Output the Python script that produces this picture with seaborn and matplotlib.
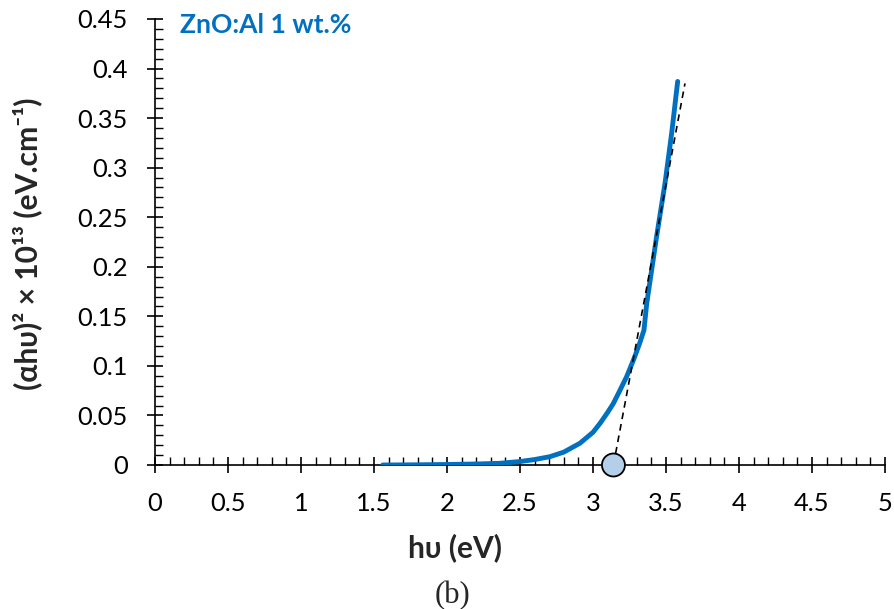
import matplotlib
matplotlib.use("Agg")
import matplotlib.pyplot as plt
import seaborn as sns
import pandas as pd
from matplotlib.ticker import MultipleLocator, FuncFormatter
from matplotlib.patches import Ellipse

# Data
energy = [1.56, 1.8, 2.0, 2.2, 2.36, 2.5, 2.6, 2.705, 2.8, 2.911, 3.0, 3.048, 3.1, 3.139,
          3.18, 3.23, 3.28, 3.32, 3.349, 3.368, 3.435, 3.493, 3.539, 3.58]
absorb = [0.0, 0.0002, 0.0005, 0.001, 0.0017, 0.0035, 0.0055, 0.0084, 0.013, 0.022,
          0.033, 0.042, 0.053, 0.062, 0.074, 0.089, 0.107, 0.123, 0.136, 0.163,
          0.230, 0.284, 0.335, 0.387]
fit_x = [3.14, 3.63]
fit_y = [0.0, 0.385]
band_gap = 3.14
sample_label = "ZnO:Al 1 wt.%"

sns.set_theme(style="white")
plt.rcParams['font.family'] = ['Lato', 'DejaVu Sans']

fig = plt.figure(figsize=(8.94, 6.09), dpi=100)
ax = fig.add_axes([155/894, 1-465/609, 730/894, 446/609])

df = pd.DataFrame({"E": energy, "A": absorb})
sns.lineplot(data=df, x="E", y="A", ax=ax, color="#0070C0", linewidth=3.5,
             solid_capstyle="round", zorder=3)
fit = pd.DataFrame({"E": fit_x, "A": fit_y})
sns.lineplot(data=fit, x="E", y="A", ax=ax, color="black", linewidth=1.2,
             linestyle=(0, (4, 3)), zorder=4)

ax.set_xlim(0, 5)
ax.set_ylim(0, 0.45)
for s in ["top", "right"]:
    ax.spines[s].set_visible(False)
for s in ["left", "bottom"]:
    ax.spines[s].set_color("black")
    ax.spines[s].set_linewidth(1.2)

ax.xaxis.set_major_locator(MultipleLocator(0.5))
ax.xaxis.set_minor_locator(MultipleLocator(0.1))
ax.yaxis.set_major_locator(MultipleLocator(0.05))
ax.yaxis.set_minor_locator(MultipleLocator(0.01))
fmt = FuncFormatter(lambda v, p: f"{v:.2f}".rstrip("0").rstrip(".") if v != 0 else "0")
ax.xaxis.set_major_formatter(fmt)
ax.yaxis.set_major_formatter(fmt)
ax.tick_params(axis="both", which="major", direction="inout", length=11.5, width=1.2,
               color="black", labelsize=16.5, labelcolor="black")
ax.tick_params(axis="x", which="major", pad=14)
ax.tick_params(axis="y", which="major", pad=14)
ax.tick_params(axis="both", which="minor", direction="in", length=6, width=1.0,
               color="black")
ax.tick_params(axis="x", which="both", bottom=True)
ax.tick_params(axis="y", which="both", left=True)

# circle marking the band gap (elliptical in data units -> round on screen)
r_px = 11.5
ax.add_patch(Ellipse((band_gap, 0), width=2*r_px/146, height=2*r_px/991,
                     facecolor="#B4CFEA", edgecolor="black", linewidth=1.3,
                     zorder=5, clip_on=False))

ax.set_xlabel("hυ (eV)", fontsize=21, fontweight="bold")
ax.xaxis.set_label_coords((455 - 155) / 730, -(548 - 465) / 446)
ax.xaxis.label.set_va("center")
ax.set_ylabel("(αhυ)² × 10¹³ (eV.cm⁻¹)", fontsize=22, fontweight="bold")
ax.yaxis.set_label_coords(-(155 - 27) / 730, (465 - 244) / 446)
ax.yaxis.label.set_va("center")

title = ax.text(180/894, 1-25/609, sample_label, transform=fig.transFigure,
                color="#0070C0", fontsize=18.5, fontweight="bold",
                va="center", ha="left")

btxt = fig.text(453/894, 1-596/609, "(b)", fontsize=21, family="Liberation Serif",
                ha="center", va="center")

# scale text sizes so their on-screen extents match the reference
fig.canvas.draw()
r = fig.canvas.get_renderer()
def fit_size(t, target, use_height=False):
    bb = t.get_window_extent(renderer=r)
    cur = bb.height if use_height else bb.width
    t.set_fontsize(t.get_fontsize() * target / cur)

fit_size(ax.yaxis.label, 292, use_height=True)
fit_size(ax.xaxis.label, 94)
fit_size(title, 172)
fit_size(btxt, 36)
lab45 = [t for t in ax.get_yticklabels() if t.get_text() == "0.45"]
if lab45:
    bb = lab45[0].get_window_extent(renderer=r)
    newsize = 16.5 * 50 / bb.width
    ax.tick_params(axis="both", which="major", labelsize=newsize)

fig.savefig("out.png", dpi=100)
